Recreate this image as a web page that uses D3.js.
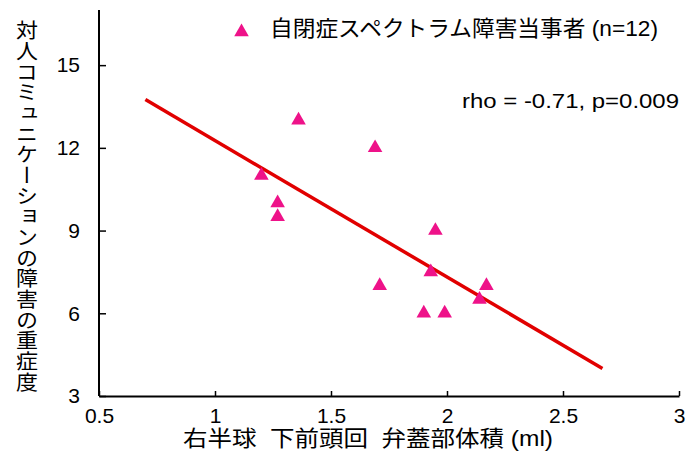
<!DOCTYPE html>
<html><head><meta charset="utf-8">
<script src="https://cdn.jsdelivr.net/npm/d3@7"></script>
<style>
html,body{margin:0;padding:0;background:#fff;}
svg{display:block;}
text{font-family:"Liberation Sans",Arial,"Noto Sans CJK JP",sans-serif;fill:#000;}
.cjk{font-family:"Liberation Sans","Noto Sans CJK JP",sans-serif;}
</style></head>
<body>
<svg id="chart" width="686" height="470"></svg>
<script>
// data
const volume = [1.20, 1.27, 1.27, 1.36, 1.69, 1.71, 1.95, 1.93, 1.90, 1.99, 2.14, 2.17];
const severity = [11, 10, 9.5, 13, 12, 7, 9, 7.5, 6, 6, 6.5, 7];
const fitX = [0.70, 2.67];
const fitY = [13.75, 4.0];
const xTicks = [0.5, 1, 1.5, 2, 2.5, 3];
const yTicks = [3, 6, 9, 12, 15];
const legendLabel = "自閉症スペクトラム障害当事者 (n=12)";
const statLabel = "rho = -0.71, p=0.009";
const xTitle = "右半球  下前頭回  弁蓋部体積 (ml)";
const yTitle = "対人コミュニケーションの障害の重症度";

const svg = d3.select("#chart");
const x = d3.scaleLinear().domain([0.5, 3]).range([99, 679]);
const y = d3.scaleLinear().domain([3, 17]).range([396, 10]);

// axes
const xAxis = svg.append("g").attr("transform", "translate(0,396)")
  .call(d3.axisBottom(x).tickValues(xTicks).tickSizeInner(-5).tickSizeOuter(0).tickPadding(12)
    .tickFormat(d3.format("")));
const yAxis = svg.append("g").attr("transform", "translate(99,0)")
  .call(d3.axisLeft(y).tickValues(yTicks).tickSizeInner(-7).tickSizeOuter(0).tickPadding(19));
[xAxis, yAxis].forEach(g => {
  g.select(".domain").attr("stroke", "#000").attr("stroke-width", 2);
  g.selectAll(".tick line").attr("stroke", "#000").attr("stroke-width", 1.5);
  g.selectAll(".tick text").attr("font-size", 21).attr("fill", "#000")
    .style("font-family", '"Liberation Sans",Arial,sans-serif');
});
xAxis.selectAll(".tick text").attr("dy", "0.71em");
yAxis.select(".domain").attr("d", `M0,${y(17)}V${y(3)}`);

// fit line
svg.append("path")
  .datum(fitX.map((v, i) => [v, fitY[i]]))
  .attr("fill", "none").attr("stroke", "#e10000").attr("stroke-width", 3.5)
  .attr("d", d3.line().x(d => x(d[0])).y(d => y(d[1])));

// points
const tri = d3.symbol().type(d3.symbolTriangle).size(92);
svg.append("g").selectAll("path").data(volume.map((v, i) => [v, severity[i]]))
  .join("path")
  .attr("d", tri)
  .attr("fill", "#ee1289")
  .attr("transform", d => `translate(${x(d[0])},${y(d[1])})`);

// legend
svg.append("path").attr("d", tri).attr("fill", "#ee1289")
  .attr("transform", "translate(241.5,32)");
svg.append("text").attr("class", "cjk").attr("x", 270).attr("y", 36)
  .attr("font-size", 22).attr("textLength", 388).attr("lengthAdjust", "spacingAndGlyphs")
  .text(legendLabel);

// stats
svg.append("text").attr("x", 462).attr("y", 108)
  .attr("font-size", 21).attr("textLength", 217).attr("lengthAdjust", "spacingAndGlyphs")
  .text(statLabel);

// x title
svg.append("text").attr("class", "cjk").attr("x", 183).attr("y", 446)
  .attr("font-size", 22).attr("textLength", 370).attr("lengthAdjust", "spacingAndGlyphs")
  .style("white-space", "pre")
  .text(xTitle);

// y title (vertical)
svg.append("text").attr("class", "cjk")
  .attr("x", 27).attr("y", 206)
  .attr("text-anchor", "middle")
  .attr("font-size", 22)
  .style("writing-mode", "vertical-rl")
  .style("text-orientation", "upright")
  .style("font-family", '"Noto Sans CJK JP",sans-serif')
  .attr("textLength", 372).attr("lengthAdjust", "spacingAndGlyphs")
  .text(yTitle);
</script>
</body></html>
